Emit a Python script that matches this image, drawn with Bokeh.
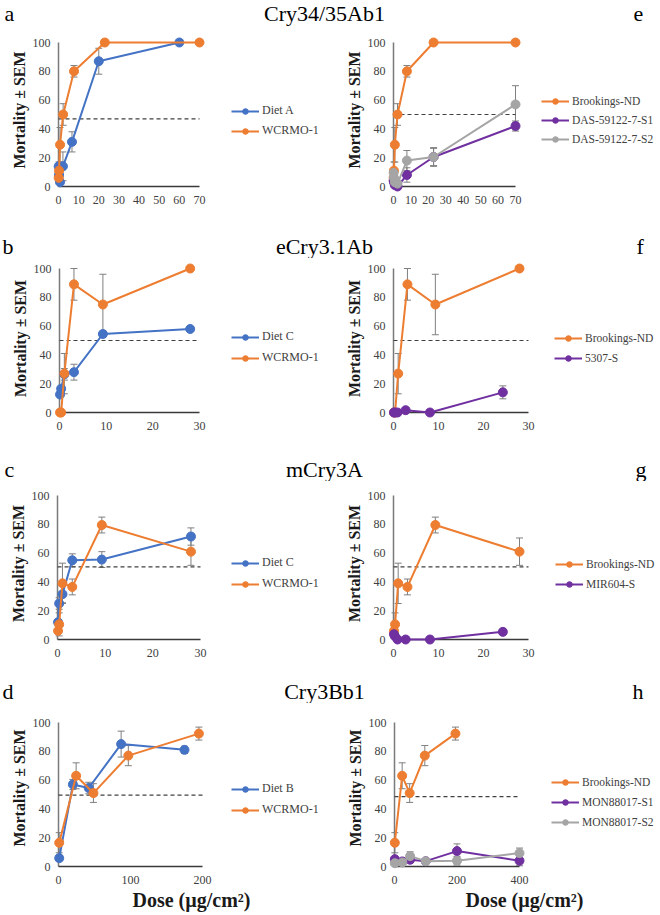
from bokeh.plotting import figure
from bokeh.models import (Range1d, FixedTicker, Legend, LegendItem, ColumnDataSource,
                          Whisker, TeeHead, Label)
from bokeh.layouts import column, row
from bokeh.embed import file_html
from bokeh.resources import INLINE

# ---------------- data ----------------
row_titles = ["Cry34/35Ab1", "eCry3.1Ab", "mCry3A", "Cry3Bb1"]
panel_letters = [["a", "e"], ["b", "f"], ["c", "g"], ["d", "h"]]
y_ticks = [0, 20, 40, 60, 80, 100]
x_ticks_70 = [0, 10, 20, 30, 40, 50, 60, 70]
x_ticks_30 = [0, 10, 20, 30]
x_ticks_200 = [0, 100, 200]
x_ticks_400 = [0, 200, 400]
y_label = "Mortality ± SEM"
x_label = "Dose (µg/cm²)"

# Cry34/35Ab1 (a, e)
dose_dietA = [0.08, 0.25, 0.74, 2.2, 6.7, 20, 60]
mort_dietA = [14, 8, 3, 14, 31, 87, 100]
sem_dietA = [0, 0, 0, 10, 7, 9, 0]
dose_cry34_ref = [0.086, 0.26, 0.77, 2.3, 7.7, 23, 70]
mort_cry34_ref = [6, 11, 29, 50, 80, 100, 100]
sem_cry34_ref = [0, 6, 12, 7.5, 4, 0, 0]
mort_das_s1 = [4, 3, 1, 0, 8, 20.5, 42]
sem_das_s1 = [0, 0, 0, 0, 5, 6, 3.5]
mort_das_s2 = [9.5, 6, 3, 2, 18, 20.5, 57]
sem_das_s2 = [0, 0, 0, 0, 7, 6.5, 13]

# eCry3.1Ab (b, f)
dose_dietC = [0.115, 0.35, 1.04, 3.1, 9.3, 28]
mort_ecry_dietC = [12.5, 16.5, 26.5, 28, 54.5, 58]
sem_ecry_dietC = [0, 0, 4, 5.5, 2, 1.5]
mort_ecry_ref = [0, 0, 27, 89, 75, 100]
sem_ecry_ref = [0, 0, 14, 11, 21, 0]
dose_field_s = [0.1, 0.3, 0.9, 2.7, 8.1, 24.3]
mort_5307 = [0, 0, 0, 1.6, 0, 14]
sem_5307 = [0, 0, 0, 0, 0, 4.5]

# mCry3A (c, g)
mort_mcry_dietC = [12, 25, 31.5, 55, 55.5, 71.5]
sem_mcry_dietC = [0, 4, 6, 4.5, 5.5, 6]
mort_mcry_ref = [6, 10.5, 39, 36.5, 79.5, 61]
sem_mcry_ref = [0, 8, 14, 5.5, 5.5, 9.5]
mort_mir604 = [3.7, 2.3, 0, 0, 0, 5.3]
sem_mir604 = [0, 0, 0, 0, 0, 2]

# Cry3Bb1 (d, h)
dose_dietB = [1, 20, 42, 87, 175]
mort_dietB = [5.8, 57, 54.5, 85, 81]
sem_dietB = [2, 3.5, 4, 9, 2.5]
dose_cry3bb_ref = [1, 24.5, 48.5, 97, 195]
mort_cry3bb_ref = [16.5, 63, 51, 77, 92.3]
sem_cry3bb_ref = [7, 9, 6.5, 7, 4.5]
dose_mon = [1, 25, 50, 100, 200, 400]
mort_mon_s1 = [5.1, 3.5, 4.7, 3.7, 10.7, 4]
sem_mon_s1 = [0, 0, 2, 0, 5, 3.5]
mort_mon_s2 = [2.3, 2.8, 7.2, 3.7, 4, 9.3]
sem_mon_s2 = [0, 0, 3, 0, 3, 3.5]

# 50 % reference (dashed) lines, per panel a..h
lc50_line = {"a": 47, "e": 50, "b": 50, "f": 50, "c": 50.5, "g": 50.5, "d": 49.5, "h": 48.5}

# ---------------- styling ----------------
FONT = "Liberation Serif"
BLUE, ORANGE, PURPLE, GRAY = "#4472C4", "#ED7D31", "#7030A0", "#A5A5A5"
ERR = "#7F7F7F"
TXT = "#404040"
PAD = 6


def make_panel(gx0, gx1, gy0, gy1, axis_px, xmax_px, y100_px, y0_px, xmax, xticks,
               series, thr, legend_left, legend_row1, row_gap, legend_font="11.5px",
               xlabel_center=None):
    W = gx1 - gx0
    H = gy1 - gy0
    ax = axis_px - gx0
    xm = xmax_px - gx0
    y100 = y100_px - gy0
    y0 = y0_px - gy0
    mbl = ax - PAD
    mbb = H - (y0 + PAD)
    fw = W - mbl
    fh = H - mbb
    u = xmax / (xm - ax)
    v = 100 / (y0 - y100)
    xs0 = -PAD * u
    ys0 = -PAD * v
    p = figure(width=W, height=H, x_range=Range1d(xs0, xs0 + fw * u),
               y_range=Range1d(ys0, ys0 + fh * v), output_backend="svg",
               toolbar_location=None, min_border_left=mbl, min_border_right=0,
               min_border_top=0, min_border_bottom=mbb)
    p.title.visible = False
    p.outline_line_color = None
    p.grid.visible = False

    yax = p.yaxis[0]
    yax.bounds = (-15, 100)
    yax.ticker = FixedTicker(ticks=y_ticks)
    yax.axis_line_color = None
    yax.major_tick_line_color = None
    yax.minor_tick_line_color = None
    yax.major_tick_out = 0
    yax.major_tick_in = 0
    yax.minor_tick_out = 0
    yax.major_label_standoff = 8 - PAD
    yax.major_label_text_font = FONT
    yax.major_label_text_font_size = "12px"
    yax.major_label_text_color = TXT
    yax.axis_label = y_label
    yax.axis_label_text_font = FONT
    yax.axis_label_text_font_style = "bold"
    yax.axis_label_text_font_size = "16px"
    yax.axis_label_text_color = "#1a1a1a"
    yax.axis_label_standoff = 2

    xax = p.xaxis[0]
    if xlabel_center is not None:
        cval = (xlabel_center - axis_px) / (xmax_px - axis_px) * xmax
        xax.bounds = (0, 2 * cval)
        xax.axis_label = x_label
        xax.axis_label_text_font = FONT
        xax.axis_label_text_font_style = "bold"
        xax.axis_label_text_font_size = "20px"
        xax.axis_label_text_color = "#1a1a1a"
        xax.axis_label_standoff = 2
    else:
        xax.bounds = (0, xmax)
    xax.ticker = FixedTicker(ticks=xticks)
    xax.axis_line_color = None
    xax.major_tick_line_color = None
    xax.minor_tick_line_color = None
    xax.major_tick_out = 0
    xax.major_tick_in = 0
    xax.minor_tick_out = 0
    xax.major_label_standoff = 3
    xax.major_label_text_font = FONT
    xax.major_label_text_font_size = "12px"
    xax.major_label_text_color = TXT

    # axis lines at the data origin
    p.line([0, 0], [0, 100], line_color="#7a7a7a", line_width=1.5)
    p.line([0, xmax], [0, 0], line_color="#3a3a3a", line_width=1.3)
    # 50% dashed line
    p.line([0, xmax], [thr, thr], line_color="#404040", line_width=1.2, line_dash="4 3")

    items = []
    for label, color, xs, ys, es in series:
        src = ColumnDataSource(dict(x=xs, y=ys))
        lr = p.line("x", "y", source=src, line_color=color, line_width=2)
        sr = p.scatter("x", "y", source=src, size=9, fill_color=color, line_color=color)
        bx = [x for x, e in zip(xs, es) if e > 0]
        if bx:
            lo = [y - e for y, e in zip(ys, es) if e > 0]
            hi = [y + e for y, e in zip(ys, es) if e > 0]
            wsrc = ColumnDataSource(dict(base=bx, lower=lo, upper=hi))
            p.add_layout(Whisker(source=wsrc, base="base", lower="lower", upper="upper",
                                 dimension="height", line_color=ERR, line_width=1,
                                 upper_head=TeeHead(size=7, line_color=ERR, line_width=1),
                                 lower_head=TeeHead(size=7, line_color=ERR, line_width=1)))
        items.append(LegendItem(label=label, renderers=[lr, sr]))

    n = len(items)
    gh = 14
    sp = max(0, round(row_gap) - gh)
    top = (legend_row1 - gy0) - gh / 2
    height = n * gh + (n - 1) * sp
    loc_x = (legend_left - gx0) - mbl
    loc_y = fh - (top + height)
    leg = Legend(items=items, location=(loc_x, loc_y), orientation="vertical",
                 glyph_width=28, glyph_height=gh, label_height=gh, spacing=sp,
                 padding=0, margin=0, border_line_color=None, background_fill_alpha=0,
                 label_text_font=FONT, label_text_font_size=legend_font,
                 label_text_color=TXT, label_standoff=3)
    p.add_layout(leg)
    return p


def make_strip(gy0, gy1, baseline, title, left_letter, right_letter, lx_left, lx_right):
    H = gy1 - gy0
    p = figure(width=660, height=H, x_range=Range1d(0, 660), y_range=Range1d(0, H),
               output_backend="svg", toolbar_location=None, min_border=0,
               x_axis_type=None, y_axis_type=None)
    p.title.visible = False
    p.outline_line_color = None
    p.grid.visible = False
    yb = H - (baseline - gy0) + 6
    common = dict(text_font=FONT, text_font_size="22px", text_color="black",
                  text_baseline="alphabetic")
    p.add_layout(Label(x=324, y=yb, text=title, text_align="center", **common))
    p.add_layout(Label(x=lx_left, y=yb, text=left_letter, text_align="left", **common))
    p.add_layout(Label(x=lx_right, y=yb, text=right_letter, text_align="left", **common))
    return p


# ---------------- panels ----------------
strip1 = make_strip(0, 27, 19, row_titles[0], panel_letters[0][0], panel_letters[0][1], 4, 633)
pa = make_panel(0, 330, 27, 220, 58, 199, 42, 186, 70, x_ticks_70,
                [("Diet A", BLUE, dose_dietA, mort_dietA, sem_dietA),
                 ("WCRMO-1", ORANGE, dose_cry34_ref, mort_cry34_ref, sem_cry34_ref)],
                lc50_line["a"], 231, 112, 19, legend_font="12px")
pe = make_panel(330, 660, 27, 220, 393, 515, 42, 186, 70, x_ticks_70,
                [("Brookings-ND", ORANGE, dose_cry34_ref, mort_cry34_ref, sem_cry34_ref),
                 ("DAS-59122-7-S1", PURPLE, dose_cry34_ref, mort_das_s1, sem_das_s1),
                 ("DAS-59122-7-S2", GRAY, dose_cry34_ref, mort_das_s2, sem_das_s2)],
                lc50_line["e"], 541, 101, 19, legend_font="11.5px")

strip2 = make_strip(220, 258, 252, row_titles[1], panel_letters[1][0], panel_letters[1][1], 2, 636)
pb = make_panel(0, 330, 258, 450, 59, 199, 268, 412, 30, x_ticks_30,
                [("Diet C", BLUE, dose_dietC, mort_ecry_dietC, sem_ecry_dietC),
                 ("WCRMO-1", ORANGE, dose_dietC, mort_ecry_ref, sem_ecry_ref)],
                lc50_line["b"], 231, 338, 19.5, legend_font="12px")
pf = make_panel(330, 660, 258, 450, 393, 528, 268, 412, 30, x_ticks_30,
                [("Brookings-ND", ORANGE, dose_dietC, mort_ecry_ref, sem_ecry_ref),
                 ("5307-S", PURPLE, dose_field_s, mort_5307, sem_5307)],
                lc50_line["f"], 554, 338, 20)

strip3 = make_strip(450, 481, 475, row_titles[2], panel_letters[2][0], panel_letters[2][1], 4, 635)
pc = make_panel(0, 330, 481, 680, 57, 200, 495, 639, 30, x_ticks_30,
                [("Diet C", BLUE, dose_dietC, mort_mcry_dietC, sem_mcry_dietC),
                 ("WCRMO-1", ORANGE, dose_dietC, mort_mcry_ref, sem_mcry_ref)],
                lc50_line["c"], 231, 564, 20, legend_font="12px")
pg = make_panel(330, 660, 481, 680, 393, 528, 495, 639, 30, x_ticks_30,
                [("Brookings-ND", ORANGE, dose_dietC, mort_mcry_ref, sem_mcry_ref),
                 ("MIR604-S", PURPLE, dose_field_s, mort_mir604, sem_mir604)],
                lc50_line["g"], 555, 564, 20)

strip4 = make_strip(680, 703, 697, row_titles[3], panel_letters[3][0], panel_letters[3][1], 2, 632)
pd_ = make_panel(0, 330, 703, 915, 58, 202, 722, 866, 200, x_ticks_200,
                 [("Diet B", BLUE, dose_dietB, mort_dietB, sem_dietB),
                  ("WCRMO-1", ORANGE, dose_cry3bb_ref, mort_cry3bb_ref, sem_cry3bb_ref)],
                 lc50_line["d"], 231, 790, 20, legend_font="12px", xlabel_center=132)
ph = make_panel(330, 660, 703, 915, 394, 519, 722, 866, 400, x_ticks_400,
                [("Brookings-ND", ORANGE, dose_cry3bb_ref, mort_cry3bb_ref, sem_cry3bb_ref),
                 ("MON88017-S1", PURPLE, dose_mon, mort_mon_s1, sem_mon_s1),
                 ("MON88017-S2", GRAY, dose_mon, mort_mon_s2, sem_mon_s2)],
                lc50_line["h"], 551, 782, 20, xlabel_center=469)

layout = column(strip1, row(pa, pe), strip2, row(pb, pf), strip3, row(pc, pg),
                strip4, row(pd_, ph))

with open("out.html", "w") as f:
    f.write(file_html(layout, INLINE))
